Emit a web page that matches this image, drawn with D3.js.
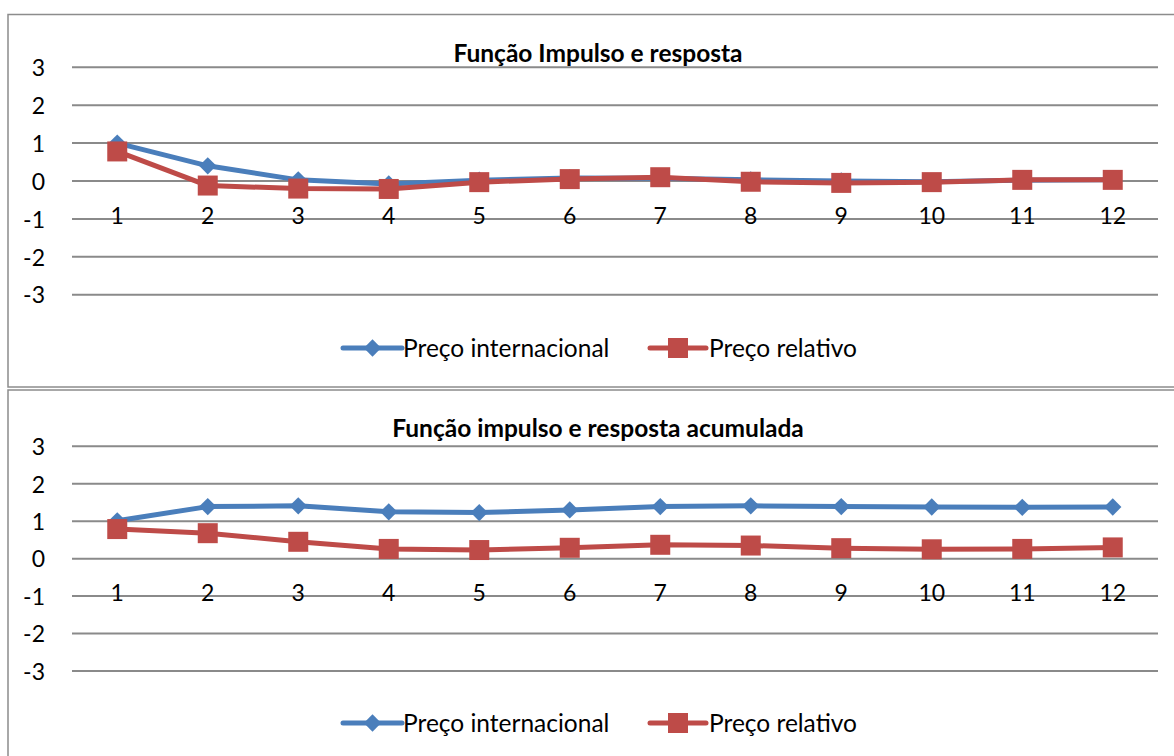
<!DOCTYPE html>
<html><head><meta charset="utf-8">
<script src="https://cdn.jsdelivr.net/npm/d3@7"></script>
<style>
html,body{margin:0;padding:0;background:#fff;}
svg{display:block;}
text{font-family:Lato, "Open Sans", sans-serif;fill:#000;}
</style></head><body>
<svg id="c" width="1174" height="756"></svg>
<script>
const categories = ["1","2","3","4","5","6","7","8","9","10","11","12"];
const yTicks = [-3,-2,-1,0,1,2,3];
const seriesNames = ["Preço internacional","Preço relativo"];
const irfIntl = [1.00, 0.40, 0.03, -0.08, 0.02, 0.08, 0.07, 0.03, 0.00, -0.02, 0.02, 0.03];
const irfRel  = [0.78, -0.12, -0.20, -0.21, -0.03, 0.05, 0.10, -0.02, -0.05, -0.03, 0.03, 0.03];
const accIntl = [1.01, 1.39, 1.41, 1.25, 1.23, 1.30, 1.39, 1.41, 1.39, 1.38, 1.37, 1.38];
const accRel  = [0.79, 0.68, 0.45, 0.26, 0.23, 0.29, 0.37, 0.35, 0.28, 0.25, 0.26, 0.30];
const titles = ["Função Impulso e resposta","Função impulso e resposta acumulada"];

const colors = ["#4A7EBB","#BE4B48"];
const svg = d3.select("#c");

function drawChart(cfg){
  const g = svg.append("g");
  g.append("rect").attr("x",cfg.fx).attr("y",cfg.fy).attr("width",cfg.fw).attr("height",cfg.fh)
    .attr("fill","#fff").attr("stroke","#8c8c8c").attr("stroke-width",1.5);
  const x = d3.scaleBand().domain(categories).range([72,1158]);
  const y = d3.scaleLinear().domain([-3,3]).range([cfg.yBot, cfg.yTop]);
  g.append("g").selectAll("line").data(yTicks).join("line")
    .attr("x1",72).attr("x2",1158).attr("y1",d=>y(d)).attr("y2",d=>y(d))
    .attr("stroke","#8a8a8a").attr("stroke-width",2);
  const ya = g.append("g").attr("transform","translate(72,0)")
    .call(d3.axisLeft(y).tickValues(yTicks).tickSize(0).tickPadding(27).tickFormat(d=>String(d)));
  ya.select(".domain").remove();
  ya.selectAll("text").attr("font-size",23).attr("font-family","Lato").attr("fill","#000").attr("dy","0.36em");
  const xa = g.append("g").attr("transform",`translate(0,${y(0)})`)
    .call(d3.axisBottom(x).tickSize(0).tickPadding(34.5));
  xa.select(".domain").remove();
  xa.selectAll("text").attr("font-size",23).attr("font-family","Lato").attr("fill","#000").attr("dy","0.36em");
  g.append("text").attr("x",598).attr("y",cfg.titleY).attr("text-anchor","middle")
    .attr("dominant-baseline","central").attr("font-weight","bold").attr("font-size",24.5).text(cfg.title);
  const line = d3.line().x((d,i)=>x(categories[i])+x.bandwidth()/2).y(d=>y(d));
  const data = [cfg.a, cfg.b];
  data.forEach((vals,si)=>{
    g.append("path").datum(vals).attr("d",line).attr("fill","none")
      .attr("stroke",colors[si]).attr("stroke-width",5).attr("stroke-linejoin","round");
    const m = g.append("g").selectAll("path").data(vals).join("path").attr("fill",colors[si]);
    if(si===0) m.attr("d",d3.symbol(d3.symbolSquare,150)())
      .attr("transform",(d,i)=>`translate(${x(categories[i])+x.bandwidth()/2},${y(d)}) rotate(45)`);
    else m.attr("d",d3.symbol(d3.symbolSquare,400)())
      .attr("transform",(d,i)=>`translate(${x(categories[i])+x.bandwidth()/2},${y(d)})`);
  });
  const lg = g.append("g");
  const items = [{x1:343,x2:402,tx:403},{x1:650,x2:706,tx:709}];
  items.forEach((it,si)=>{
    lg.append("line").attr("x1",it.x1).attr("x2",it.x2).attr("y1",cfg.legY).attr("y2",cfg.legY)
      .attr("stroke",colors[si]).attr("stroke-width",5).attr("stroke-linecap","round");
    const cx=(it.x1+it.x2)/2;
    if(si===0) lg.append("path").attr("d",d3.symbol(d3.symbolSquare,150)()).attr("transform",`translate(${cx},${cfg.legY}) rotate(45)`).attr("fill",colors[si]);
    else lg.append("path").attr("d",d3.symbol(d3.symbolSquare,400)()).attr("transform",`translate(${cx},${cfg.legY})`).attr("fill",colors[si]);
    lg.append("text").attr("x",it.tx).attr("y",cfg.legY).attr("dy","0.36em")
      .attr("font-size",24.5).text(seriesNames[si]);
  });
}

drawChart({fx:8,fy:14.5,fw:1180,fh:372.5,yTop:67.3,yBot:294.7,titleY:52,legY:348,title:titles[0],a:irfIntl,b:irfRel});
drawChart({fx:8,fy:390,fw:1180,fh:400,yTop:446.3,yBot:671,titleY:427.5,legY:723,title:titles[1],a:accIntl,b:accRel});
</script></body></html>
